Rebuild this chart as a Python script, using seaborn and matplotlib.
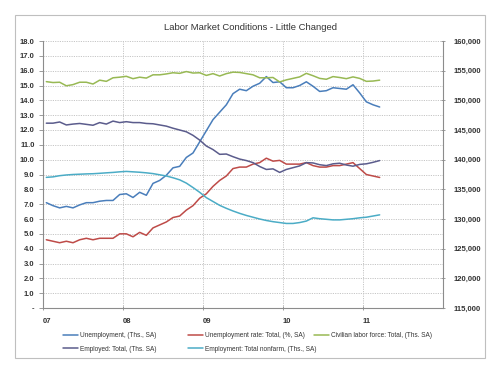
import numpy as np
import pandas as pd
import matplotlib
matplotlib.use('Agg')
import matplotlib.pyplot as plt
import seaborn as sns
from matplotlib.ticker import FuncFormatter, MultipleLocator

# ---- data: monthly, Jan 2007 .. Mar 2011 ----
year_labels = ['07', '08', '09', '10', '11']

# left axis (millions / percent)
unemployment = [7.1, 6.9, 6.75, 6.85, 6.75, 6.95, 7.1, 7.1, 7.2, 7.25, 7.25, 7.65,
                7.7, 7.45, 7.8, 7.6, 8.4, 8.6, 8.95, 9.45, 9.55, 10.15, 10.45, 11.2,
                11.95, 12.7, 13.2, 13.7, 14.45, 14.75, 14.65, 14.95, 15.15, 15.6, 15.2, 15.25,
                14.85, 14.85, 15.0, 15.25, 14.95, 14.6, 14.65, 14.85, 14.8, 14.75, 15.05, 14.5,
                13.9, 13.7, 13.55]
unemp_rate = [4.6, 4.5, 4.4, 4.5, 4.4, 4.6, 4.7, 4.6, 4.7, 4.7, 4.7, 5.0,
              5.0, 4.8, 5.1, 4.9, 5.4, 5.6, 5.8, 6.1, 6.2, 6.6, 6.9, 7.4,
              7.7, 8.2, 8.6, 8.9, 9.4, 9.5, 9.5, 9.7, 9.8, 10.1, 9.9, 9.95,
              9.7, 9.7, 9.7, 9.8, 9.6, 9.5, 9.5, 9.6, 9.6, 9.7, 9.8, 9.4,
              9.0, 8.9, 8.8]

# right axis (thousands)
labor_force = [153150, 153000, 153050, 152450, 152650, 153050, 153050, 152750, 153400, 153200, 153800, 153900,
               154050, 153650, 153900, 153750, 154300, 154300, 154450, 154650, 154550, 154850, 154600, 154650,
               154200, 154500, 154100, 154500, 154750, 154700, 154500, 154300, 153800, 153800, 153850, 153100,
               153450, 153700, 153950, 154550, 154150, 153700, 153550, 154000, 153850, 153650, 153950, 153700,
               153200, 153250, 153400]
employed = [146150, 146150, 146350, 145850, 146000, 146100, 145950, 145800, 146250, 146000, 146500, 146250,
            146400, 146250, 146250, 146100, 146050, 145850, 145650, 145300, 145000, 144700, 144100, 143300,
            142300, 141700, 140900, 140950, 140500, 140100, 139850, 139500, 138850, 138350, 138450, 137850,
            138350, 138650, 138950, 139500, 139450, 139150, 139000, 139300, 139400, 139100, 138900, 139200,
            139300, 139550, 139850]
nonfarm = [137020, 137100, 137300, 137420, 137500, 137550, 137600, 137630, 137700, 137780, 137850, 137950,
           138020, 137950, 137880, 137780, 137650, 137450, 137250, 136950, 136600, 136050, 135300, 134500,
           133600, 132950, 132300, 131800, 131350, 130950, 130600, 130300, 130000, 129750, 129550, 129400,
           129250, 129250, 129400, 129650, 130200, 130050, 129950, 129850, 129850, 129950, 130050, 130200,
           130300, 130500, 130700]

months = np.arange(len(unemployment)) + 0.5

c_unemp = '#4a7ebb'
c_rate = '#be4b48'
c_lf = '#98b954'
c_emp = '#5b5c8c'
c_nf = '#4bacc6'

sns.set_theme(style="white")
plt.rcParams['font.family'] = ['Liberation Sans', 'DejaVu Sans']

fig = plt.figure(figsize=(5, 3.75), dpi=100)
fig.patch.set_facecolor('white')
# outer chart frame
fig.add_artist(plt.Rectangle((15 / 500, 1 - 358 / 375), 470 / 500, 343 / 375,
                             transform=fig.transFigure, fill=False, edgecolor='#bfbfbf', lw=0.8))

ax = fig.add_axes([43 / 500, 1 - 308 / 375, 400 / 500, 267 / 375])
ax2 = ax.twinx()

lw = 1.1
sns.lineplot(x=months, y=unemployment, ax=ax, color=c_unemp, lw=lw, label='Unemployment, (Ths., SA)', legend=False)
sns.lineplot(x=months, y=unemp_rate, ax=ax, color=c_rate, lw=lw, label='Unemployment rate: Total, (%, SA)', legend=False)
sns.lineplot(x=months, y=labor_force, ax=ax2, color=c_lf, lw=lw, label='Civilian labor force: Total, (Ths. SA)', legend=False)
sns.lineplot(x=months, y=employed, ax=ax2, color=c_emp, lw=lw, label='Employed: Total, (Ths. SA)', legend=False)
sns.lineplot(x=months, y=nonfarm, ax=ax2, color=c_nf, lw=lw, label='Employment: Total nonfarm, (Ths., SA)', legend=False)

ax.set_xlim(0, 60)
ax.set_ylim(0, 18)
ax2.set_ylim(115000, 160000)

ax.set_xticks([0, 12, 24, 36, 48])
ax.set_xticklabels(year_labels)
ax.yaxis.set_major_locator(MultipleLocator(1))
ax.yaxis.set_major_formatter(FuncFormatter(lambda v, p: '-' if abs(v) < 1e-9 else f'{v:.1f}'))
ax2.yaxis.set_major_locator(MultipleLocator(5000))
ax2.yaxis.set_major_formatter(FuncFormatter(lambda v, p: f'{v:,.0f}'))

grid_kw = dict(color='#c6c6c6', linestyle=(0, (1.2, 1.2)), linewidth=0.7)
for v in range(1, 19):
    ax.axhline(v, zorder=0, **grid_kw)
for v in [12, 24, 36, 48]:
    ax.axvline(v, zorder=0, **grid_kw)

for a in (ax, ax2):
    for s in a.spines.values():
        s.set_visible(False)
ax.spines['left'].set_visible(True)
ax.spines['bottom'].set_visible(True)
ax2.spines['right'].set_visible(True)
for s in (ax.spines['left'], ax.spines['bottom'], ax2.spines['right']):
    s.set_color('#8c8c8c')
    s.set_linewidth(0.8)

tick_font = dict(labelsize=5.5, labelcolor='#333333', color='#8c8c8c', length=3, width=0.6)
ax.tick_params(axis='y', left=True, direction='out', pad=3, **tick_font)
ax.tick_params(axis='x', bottom=True, direction='inout', pad=6, **tick_font)
ax2.tick_params(axis='y', right=True, direction='inout', pad=6, **tick_font)
for lab in ax.get_xticklabels() + ax.get_yticklabels() + ax2.get_yticklabels():
    lab.set_fontweight('bold')
for lab in ax.get_xticklabels():
    lab.set_horizontalalignment('left')
ax.set_xlabel('')
ax.set_ylabel('')
ax2.set_ylabel('')

fig.text(0.5, 1 - 27 / 375, 'Labor Market Conditions - Little Changed', ha='center', va='center',
         fontsize=6.8, color='#333333')

# legend: three columns placed where the reference puts them
h1, l1 = ax.get_legend_handles_labels()
h2, l2 = ax2.get_legend_handles_labels()
hd = dict(zip(l1 + l2, h1 + h2))
columns = [(['Unemployment, (Ths., SA)', 'Employed: Total, (Ths. SA)'], 63),
           (['Unemployment rate: Total, (%, SA)', 'Employment: Total nonfarm, (Ths., SA)'], 188),
           (['Civilian labor force: Total, (Ths. SA)'], 314)]
for names, x0 in columns:
    leg = fig.legend([hd[k] for k in names], names, loc='upper left',
                     bbox_to_anchor=(x0 / 500, 1 - 332 / 375), frameon=False,
                     fontsize=4.7, handlelength=2.3, handletextpad=0.3,
                     labelspacing=1.0, borderaxespad=0, borderpad=0)
    for t in leg.get_texts():
        t.set_color('#333333')

plt.savefig('out.png', dpi=100, facecolor='white')
plt.close()
